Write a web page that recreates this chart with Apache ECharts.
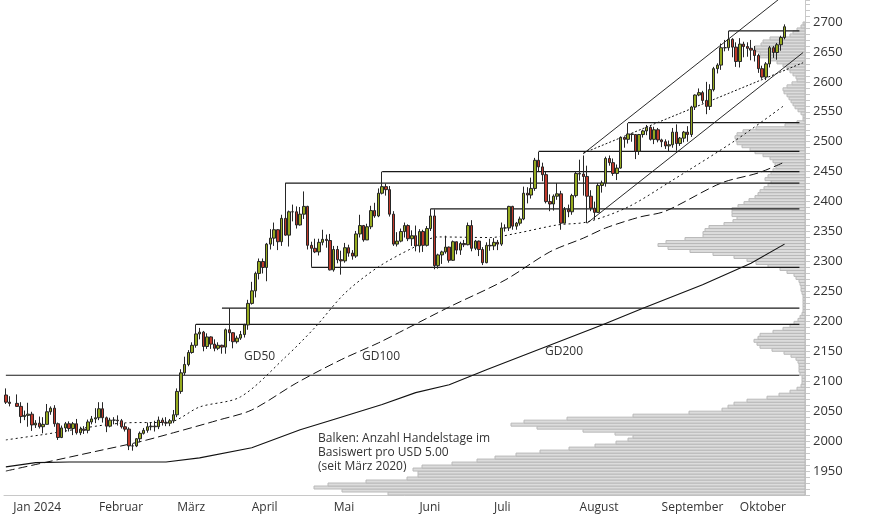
<!DOCTYPE html>
<html><head><meta charset="utf-8">
<script src="https://cdn.jsdelivr.net/npm/echarts@6/dist/echarts.min.js"></script>
<style>html,body{margin:0;padding:0;background:#fff}#c{width:874px;height:515px}</style>
</head><body><div id="c"></div>
<script>
// Month labels and trading-day counts (Dec 28/29 2023, Jan 1 placeholder, ...)
const monthLabels = ['', 'Jan 2024','Februar','März','April','Mai','Juni','Juli','August','September','Oktober'];
const monthDayCounts = [2, 23, 21, 20, 22, 23, 20, 23, 22, 21, 13];
const extraDays = 5;
// [open, close, low, high]
const candles = [
[2077,2065,2062,2088],[2065,2063,2058,2075],null,
[2063,2058,2057,2078],[2058,2041,2030,2065],[2041,2043,2035,2051],[2043,2045,2024,2064],[2045,2027,2017,2049],[2027,2030,2022,2035],[2030,2024,2021,2041],[2024,2028,2013,2040],[2028,2049,2028,2062],[2049,2055,2044,2058],[2055,2029,2024,2060],[2029,2006,2002,2031],[2006,2022,2005,2026],[2022,2029,2015,2032],[2029,2021,2016,2033],[2021,2029,2010,2032],[2029,2014,2011,2037],[2014,2020,2010,2024],[2020,2018,2012,2025],[2018,2032,2013,2036],[2032,2037,2028,2042],[2037,2039,2030,2055],
[2039,2054,2035,2065],[2054,2039,2031,2065],[2039,2025,2015,2041],[2025,2035,2023,2039],[2035,2035,2028,2040],[2035,2034,2026,2043],[2034,2024,2021,2037],[2024,2020,2016,2030],[2020,1992,1985,2023],[1992,1992,1984,1996],[1992,2004,1990,2005],[2004,2013,1998,2016],[2013,2018,2011,2022],[2018,2024,2014,2031],[2024,2025,2018,2031],[2025,2024,2016,2034],[2024,2035,2020,2041],[2035,2031,2026,2039],[2031,2030,2025,2040],[2030,2034,2025,2037],[2034,2044,2030,2052],
[2044,2083,2040,2088],[2083,2114,2079,2120],[2114,2128,2110,2141],[2128,2148,2125,2152],[2148,2160,2146,2165],[2160,2179,2156,2195],[2179,2182,2170,2189],[2182,2158,2150,2184],[2158,2174,2154,2180],[2174,2162,2154,2175],[2162,2155,2150,2170],[2155,2160,2152,2165],[2160,2157,2146,2161],[2157,2186,2146,2188],[2186,2181,2167,2222],[2181,2166,2155,2182],[2166,2172,2163,2176],[2172,2178,2169,2184],[2178,2194,2173,2196],[2194,2230,2186,2236],
[2230,2251,2228,2266],[2251,2280,2240,2283],[2280,2300,2270,2305],[2300,2290,2280,2305],[2290,2329,2267,2331],[2329,2339,2320,2354],[2339,2353,2326,2365],[2353,2333,2319,2354],[2333,2372,2326,2378],[2372,2344,2343,2431],[2344,2383,2325,2385],[2383,2383,2367,2395],[2383,2361,2355,2392],[2361,2379,2360,2391],[2379,2392,2371,2417],[2392,2327,2320,2393],[2327,2322,2291,2333],[2322,2316,2314,2338],[2316,2332,2310,2338],[2332,2337,2327,2353],[2337,2335,2323,2345],[2335,2286,2285,2346],
[2286,2320,2283,2326],[2320,2303,2297,2326],[2303,2301,2278,2318],[2301,2323,2298,2331],[2323,2314,2308,2328],[2314,2309,2303,2319],[2309,2346,2306,2351],[2346,2360,2340,2378],[2360,2336,2333,2361],[2336,2358,2336,2363],[2358,2385,2354,2393],[2385,2376,2373,2398],[2376,2414,2374,2422],[2414,2425,2412,2450],[2425,2420,2410,2430],[2420,2379,2375,2426],[2379,2329,2326,2384],[2329,2334,2325,2349],[2334,2350,2332,2355],[2350,2360,2340,2365],[2360,2338,2334,2362],[2338,2343,2326,2352],[2343,2326,2317,2360],
[2326,2350,2315,2354],[2350,2327,2316,2353],[2327,2355,2325,2359],[2355,2376,2351,2388],[2376,2293,2287,2387],[2293,2311,2288,2313],[2311,2316,2296,2318],[2316,2324,2313,2343],[2324,2302,2298,2325],[2302,2333,2301,2335],[2333,2319,2312,2333],[2319,2330,2311,2333],[2330,2328,2324,2336],[2328,2360,2327,2365],[2360,2322,2317,2369],[2322,2334,2319,2336],[2334,2320,2309,2335],[2320,2298,2294,2324],[2298,2327,2297,2332],[2327,2326,2318,2338],
[2326,2332,2319,2339],[2332,2329,2319,2336],[2329,2356,2326,2365],[2356,2356,2350,2362],[2356,2392,2351,2393],[2392,2359,2353,2393],[2359,2364,2353,2366],[2364,2371,2360,2375],[2371,2414,2369,2425],[2414,2411,2397,2424],[2411,2422,2405,2440],[2422,2469,2418,2473],[2469,2458,2451,2483],[2458,2445,2434,2465],[2445,2400,2397,2450],[2400,2396,2384,2412],[2396,2409,2385,2412],[2409,2413,2403,2431],[2413,2364,2353,2418],[2364,2387,2364,2391],[2387,2383,2374,2395],[2383,2410,2378,2413],[2410,2447,2407,2451],
[2447,2446,2435,2470],[2446,2442,2410,2477],[2442,2409,2364,2460],[2409,2389,2384,2419],[2389,2382,2370,2400],[2382,2427,2381,2431],[2427,2431,2415,2435],[2431,2472,2425,2475],[2472,2465,2460,2477],[2465,2447,2443,2472],[2447,2456,2436,2462],[2456,2507,2455,2509],[2507,2504,2490,2507],[2504,2513,2497,2531],[2513,2512,2500,2514],[2512,2484,2471,2512],[2484,2512,2478,2513],[2512,2518,2507,2520],[2518,2524,2511,2528],[2524,2504,2502,2526],[2504,2520,2496,2525],[2520,2503,2499,2523],
[2503,2500,2491,2505],[2500,2493,2488,2504],[2493,2495,2484,2502],[2495,2516,2490,2523],[2516,2497,2485,2529],[2497,2506,2493,2508],[2506,2516,2499,2518],[2516,2512,2500,2526],[2512,2558,2508,2560],[2558,2578,2553,2579],[2578,2582,2576,2589],[2582,2569,2564,2585],[2569,2559,2546,2600],[2559,2587,2553,2596],[2587,2622,2584,2625],[2622,2628,2614,2631],[2628,2657,2620,2664],[2657,2657,2651,2670],[2657,2671,2652,2685],[2671,2658,2641,2673],[2658,2634,2625,2666],
[2634,2663,2624,2673],[2663,2659,2641,2667],[2659,2656,2642,2666],[2656,2653,2636,2670],[2653,2644,2634,2660],[2644,2622,2615,2647],[2622,2608,2605,2627],[2608,2630,2603,2633],[2630,2657,2624,2660],[2657,2649,2640,2660],[2649,2662,2637,2665],[2662,2674,2652,2677],[2674,2692,2671,2696]
];
// Moving averages: [day index, value]
const gd50 = [[0,2002],[9,2010],[31,2030],[44,2032],[52,2057],[63,2074],[75,2140],[83,2190],[91,2247],[100,2291],[109,2322],[116,2341],[130,2340],[137,2347],[148,2361],[156,2366],[167,2391],[179,2436],[196,2503],[209,2561]];
const gd100 = [[0,1950],[11,1965],[25,1984],[36,1999],[45,2014],[57,2035],[66,2052],[78,2097],[90,2136],[100,2164],[107,2186],[119,2224],[134,2269],[146,2316],[155,2339],[161,2356],[170,2374],[177,2384],[192,2431],[202,2448],[209,2466]];
const gd200 = [[0,1957],[8,1964],[17,1965],[43,1965],[52,1972],[66,1989],[79,2019],[88,2036],[101,2061],[110,2081],[119,2094],[129,2119],[160,2194],[171,2222],[187,2261],[200,2297],[209,2329]];
// Horizontal levels: price and start day index
const levelPrices = [2110, 2195, 2222, 2290, 2431, 2450, 2388, 2484, 2532, 2685];
const levelStart  = [0, 51, 58, 82, 75, 101, 114, 143, 167, 194];
// Trend channel [startIdx, startPrice, endIdx, endPrice]
const channelUpper = [155, 2480, 214, 2770];
const channelLower = [156, 2364, 214, 2649];
const channelMid   = [155, 2481, 214, 2632];
// Volume profile: count per USD 5 bin, starting at bin centre 1912.5
const profileStart = 1912.5;
const profileCounts = [417,463,491,477,439,398,387,387,392,383,353,328,310,289,265,236,210,189,177,172,190,222,268,294,281,238,172,116,83,77,71,58,38,26,15,8,4,3,3,3,
5,6,6,6,7,9,14,21,33,45,48,51,47,45,32,22,15,11,7,5,3,2,2,2,2,2,2,3,4,4,5,6,9,11,18,25,37,49,58,71,92,115,137,147,139,120,102,102,100,96,81,72,68,73,73,73,67,61,56,50,47,45,41,37,34,
40,37,34,32,29,30,32,35,42,50,55,63,68,69,70,68,62,49,20,8,2,2,4,7,10,12,14,16,18,21,22,18,13,8,9,12,15,18,22,28,36,45,45,49,50,44,42,35,15,12,8,4,2];

// categories
const cats = [], monthStartIdx = {};
let k = 0;
monthDayCounts.forEach((n, m) => { monthStartIdx[k] = monthLabels[m]; for (let i = 0; i < n; i++) cats.push('d' + (k++)); });
for (let i = 0; i < extraDays; i++) cats.push('d' + (k++));
const candleData = cats.map((c, i) => (i < candles.length && candles[i]) ? candles[i] : '-');
const profileData = profileCounts.map((v, i) => [profileStart + i * 5, v]);
const lastIdx = cats.length - 2;

const levelSeries = levelPrices.map((p, i) => ({
  type: 'line', data: [[levelStart[i], p], [lastIdx, p]], symbol: 'none', silent: true,
  lineStyle: { color: '#1a1a1a', width: 1.2 }, z: 3, animation: false
}));
const chan = (a, dash, w) => ({ type: 'line', data: [[a[0], a[1]], [a[2], a[3]]], symbol: 'none', silent: true,
  lineStyle: { color: '#111', width: w, type: dash }, z: 3, animation: false });
const ma = (d, dash, w, sm) => ({ type: 'line', data: d, symbol: 'none', silent: true, smooth: sm,
  lineStyle: { color: '#111', width: w, type: dash }, z: 3, animation: false });

const chart = echarts.init(document.getElementById('c'));
const font = 'Open Sans, sans-serif';
chart.setOption({
  animation: false,
  grid: { left: 4, right: 69, top: 0, bottom: 20 },
  xAxis: [{
    type: 'category', data: cats, boundaryGap: true,
    axisLine: { lineStyle: { color: '#c8c8c8' } },
    axisTick: { length: 20, lineStyle: { color: '#c8c8c8' }, interval: (i) => monthStartIdx[i] !== undefined && monthStartIdx[i] !== '' },
    axisLabel: { interval: (i) => monthStartIdx[i] !== undefined && monthStartIdx[i] !== '', formatter: (v, i) => monthStartIdx[i] || '',
      align: 'left', margin: 7, color: '#333', fontSize: 12, fontFamily: font },
    splitLine: { show: false }
  }, {
    type: 'value', inverse: true, min: 0, max: 801, show: false
  }],
  yAxis: {
    type: 'value', position: 'right', min: 1910, max: 2736.7, interval: 10,
    axisLine: { show: true, lineStyle: { color: '#c8c8c8' } },
    axisTick: { show: true, length: 5, lineStyle: { color: '#c8c8c8' } },
    axisLabel: { color: '#333', fontSize: 13, fontFamily: font, margin: 8,
      formatter: v => (Math.round(v) % 50 === 0 && v < 2730) ? String(Math.round(v)) : '' },
    splitLine: { show: false }
  },
  series: [
    { type: 'custom', xAxisIndex: 1, data: profileData, encode: { x: 1, y: 0 }, z: 1, silent: true,
      renderItem: (params, api) => {
        const p = api.value(0), c = api.value(1);
        const a = api.coord([0, p + 2.5]), b = api.coord([c, p - 2.5]);
        return { type: 'rect', shape: { x: b[0], y: a[1], width: a[0] - b[0], height: b[1] - a[1] },
          style: { fill: '#dcdcdc', stroke: '#b9b9b9', lineWidth: 1 } };
      } },
    ma(gd50, [2, 3], 1, 0.3), ma(gd100, [9, 4], 1, 0.3), ma(gd200, 'solid', 1.1, false),
    chan(channelUpper, 'solid', 0.9), chan(channelLower, 'solid', 0.9), chan(channelMid, [2, 2], 1),
    ...levelSeries,
    { type: 'candlestick', data: candleData, barWidth: 3, z: 5,
      itemStyle: { color: '#95aa1f', color0: '#c0392b', borderColor: '#262626', borderColor0: '#262626', borderWidth: 1 } }
  ],
  graphic: [
    { type: 'text', left: 244, top: 351, style: { text: 'GD50', fill: '#333', font: '12px ' + font } },
    { type: 'text', left: 362, top: 351, style: { text: 'GD100', fill: '#333', font: '12px ' + font } },
    { type: 'text', left: 545, top: 346, style: { text: 'GD200', fill: '#333', font: '12px ' + font } },
    { type: 'text', left: 318, top: 432, style: { text: 'Balken: Anzahl Handelstage im\nBasiswert pro USD 5.00\n(seit März 2020)', fill: '#333', font: '12px ' + font, lineHeight: 14 } }
  ]
});
</script></body></html>
